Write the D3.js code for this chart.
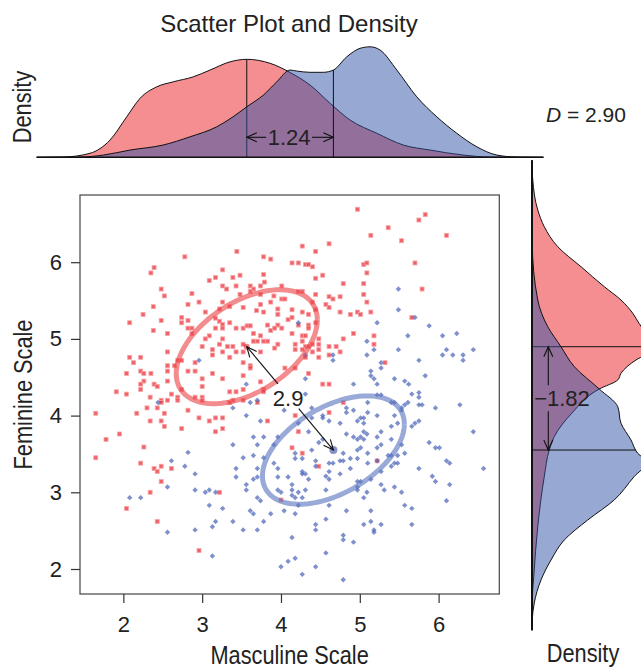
<!DOCTYPE html>
<html>
<head>
<meta charset="utf-8">
<script src="https://cdn.jsdelivr.net/npm/d3@7"></script>
<style>
body { margin: 0; background: #fff; }
text { font-family: 'Liberation Sans', Arial, Helvetica, sans-serif; fill: #222; }
</style>
</head>
<body>
<div id="viz"></div>
<script>
// tick labels
var xTicks = [2, 3, 4, 5, 6];
var yTicks = [2, 3, 4, 5, 6];

// group means (masculine, feminine) : red group, blue group
var meanX = [3.566, 4.665];
var meanY = [4.898, 3.551];

// data ellipses: half extents along x and y, and correlation
var ellHalfX = [0.895, 0.90];
var ellHalfY = [0.743, 0.706];
var ellR     = [0.47, 0.48];

// labels
var diffXLabel = "1.24";
var diffYLabel = "\u22121.82";
var distLabel  = "2.9";
var dLabel     = "2.90";

// marginal densities, [value, density]
var topRed = [[0.9,0],[1.235,0.001],[1.577,0.016],[1.831,0.069],[2.043,0.162],[2.212,0.236],[2.424,0.282],[2.635,0.302],[2.888,0.322],[3.100,0.349],[3.354,0.382],[3.566,0.392],[3.862,0.376],[4.117,0.339],[4.369,0.289],[4.623,0.216],[4.877,0.149],[5.216,0.096],[5.553,0.049],[5.892,0.029],[6.311,0.009],[6.654,0.001],[7.33,0]];
var topBlue = [[0.9,0],[1.45,0.001],[1.746,0.009],[2.085,0.029],[2.504,0.049],[2.846,0.082],[3.185,0.122],[3.392,0.162],[3.566,0.202],[3.777,0.249],[3.947,0.302],[4.115,0.349],[4.2,0.345],[4.369,0.340],[4.538,0.340],[4.665,0.349],[4.835,0.402],[5.004,0.436],[5.131,0.442],[5.258,0.429],[5.470,0.349],[5.723,0.242],[5.977,0.162],[6.231,0.096],[6.485,0.042],[6.739,0.009],[6.992,0.001],[7.33,0]];
var sideRed = [[7.33,0],[7.163,0.001],[7.072,0.003],[6.681,0.023],[6.463,0.049],[6.202,0.103],[5.941,0.196],[5.681,0.289],[5.507,0.356],[5.334,0.403],[5.203,0.428],[5.051,0.46],[4.898,0.47],[4.790,0.45],[4.725,0.416],[4.552,0.356],[4.464,0.343],[4.347,0.269],[4.030,0.159],[3.725,0.089],[3.551,0.069],[3.203,0.049],[2.552,0.023],[1.900,0.007],[1.596,0.001],[1.2,0]];
var sideBlue = [[7.33,0],[6.25,0.001],[5.507,0.023],[5.159,0.063],[4.898,0.116],[4.638,0.169],[4.347,0.269],[4.116,0.343],[3.900,0.356],[3.682,0.396],[3.508,0.423],[3.395,0.46],[3.203,0.408],[2.900,0.329],[2.639,0.223],[2.378,0.129],[2.117,0.076],[1.857,0.036],[1.557,0.009],[1.335,0.001],[1.2,0]];

// scatter points [masculine, feminine]
var redPts = [
[3.44,6.14],[2.78,6.07],[3.78,6.07],[3.87,6.04],[2.39,5.93],[2.35,5.86],[3.26,5.90],[3.48,5.83],[3.78,5.84],[3.17,5.80],[3.39,5.80],[3.09,5.76],[3.79,5.74],[3.26,5.69],[3.43,5.69],[3.61,5.69],[3.74,5.69],[4.01,5.69],[2.48,5.65],[3.31,5.65],[3.65,5.65],[2.87,5.59],[3.48,5.58],[3.61,5.62],[2.52,5.56],[3.74,5.58],[3.91,5.56],[4.01,5.52],[4.05,5.52],[2.82,5.45],[2.96,5.48],[3.26,5.48],[3.74,5.45],[3.87,5.48],[3.52,5.41],[2.38,5.42],[3.35,5.42],[3.22,5.39],[3.96,5.39],[3.69,5.37],[3.78,5.35],[3.04,5.35],[2.25,5.32],[2.74,5.28],[3.17,5.27],[3.96,5.32],[2.48,5.24],[2.82,5.24],[2.74,5.21],[3.22,5.23],[3.26,5.19],[4.09,5.25],[2.08,5.21],[3.35,5.21],[3.96,5.18],[3.26,5.14],[3.43,5.14],[3.52,5.14],[3.57,5.17],[3.61,5.17],[3.83,5.18],[4.01,5.14],[2.82,5.14],[2.87,5.14],[3.17,5.14],[2.38,5.11],[2.56,5.07],[2.87,5.07],[3.65,5.07],[3.74,5.04],[3.87,5.11],[3.92,5.14],[3.09,5.04],[3.04,5.00],[3.26,5.00],[3.65,4.97],[3.70,4.97],[3.78,4.97],[3.83,4.97],[3.96,4.93],[3.52,4.93],[3.22,4.93],[3.32,4.90],[3.39,4.90],[3.00,4.90],[3.13,4.86],[3.26,4.83],[3.52,4.83],[3.74,4.83],[3.43,4.83],[2.56,4.83],[3.92,4.88],[2.08,4.76],[2.22,4.76],[2.13,4.69],[2.69,4.72],[2.74,4.72],[2.91,4.69],[3.13,4.79],[3.35,4.76],[3.61,4.65],[3.61,4.62],[3.52,4.69],[4.05,4.62],[2.22,4.58],[2.56,4.58],[2.82,4.58],[2.91,4.58],[3.13,4.55],[2.04,4.55],[2.26,4.55],[2.35,4.55],[2.56,4.65],[2.65,4.65],[3.00,4.48],[3.26,4.48],[3.52,4.52],[3.74,4.44],[2.26,4.45],[2.22,4.41],[2.56,4.45],[2.39,4.41],[2.43,4.38],[2.22,4.34],[2.74,4.34],[3.00,4.38],[3.35,4.31],[3.43,4.31],[1.91,4.31],[2.04,4.28],[2.61,4.28],[3.52,4.34],[3.78,4.34],[3.78,4.31],
[4.97,6.69],[5.83,6.62],[5.75,6.55],[5.36,6.45],[5.14,6.35],[6.10,6.35],[5.53,6.28],[4.61,6.24],[4.27,6.21],[4.44,6.14],[4.14,5.99],[4.22,5.99],[4.31,5.97],[4.35,5.97],[4.40,5.94],[5.05,5.97],[5.09,5.99],[5.70,5.99],[5.09,5.86],[4.53,5.83],[4.44,5.79],[4.79,5.72],[5.05,5.72],[5.79,5.65],[4.22,5.62],[4.27,5.62],[4.44,5.58],[5.05,5.58],[4.61,5.55],[4.66,5.52],[4.75,5.55],[5.09,5.48],[4.40,5.48],[4.57,5.45],[4.61,5.41],[4.14,5.38],[4.27,5.35],[4.35,5.32],[4.44,5.38],[4.75,5.35],[4.88,5.32],[4.97,5.35],[5.01,5.32],[5.14,5.35],[5.66,5.28],[4.14,5.28],[4.22,5.18],[4.35,5.18],[4.35,5.14],[4.44,5.21],[4.14,5.07],[4.92,5.07],[5.18,5.04],[4.79,5.00],[4.27,5.04],[4.31,5.04],[4.27,4.97],[4.48,5.00],[4.18,4.93],[4.40,4.93],[4.48,4.93],[5.18,4.93],[4.31,4.90],[4.35,4.90],[4.18,4.86],[4.27,4.86],[4.48,4.86],[4.61,4.90],[4.70,4.90],[4.40,4.83],[4.75,4.83],[4.61,4.79],[4.31,4.76],[4.48,4.76],[5.32,4.69],[4.18,4.62],[4.35,4.55],[4.53,4.41],[4.61,4.41],
[2.34,4.24],[2.48,4.20],[2.56,4.20],[2.48,4.17],[2.69,4.24],[2.69,4.20],[2.91,4.24],[3.00,4.24],[3.00,4.20],[3.39,4.20],[3.35,4.17],[3.52,4.20],[3.70,4.17],[1.65,4.03],[2.17,4.03],[2.30,4.10],[2.43,4.10],[2.52,4.03],[2.82,4.07],[2.34,3.93],[2.48,3.93],[2.52,3.86],[2.74,3.83],[2.96,3.97],[3.09,3.93],[3.17,3.97],[3.26,3.97],[3.17,3.79],[3.26,3.83],[3.83,3.93],[1.78,3.69],[1.95,3.76],[2.26,3.59],[1.65,3.45],[2.22,3.38],[2.39,3.31],[2.43,3.27],[2.48,3.34],[2.61,3.31],[2.48,3.14],[2.34,3.00],[2.04,2.79],[3.22,3.00],[2.43,2.62],[2.96,2.24],[4.00,2.90],
[4.79,4.17],[4.18,4.00],[4.61,4.04],[4.22,3.79],[4.14,3.58],[4.27,3.51],[4.48,3.34],[5.22,3.41]
];
var bluePts = [
[2.96,4.72],[3.56,4.41],
[5.49,5.65],[5.49,5.38],[5.22,5.21],[5.70,5.28],[5.88,5.17],[4.22,5.21],[6.23,5.07],[5.61,5.04],[6.05,5.04],[5.09,4.97],[5.18,4.86],[5.49,4.86],[6.10,4.86],[6.44,4.86],[5.09,4.79],[6.05,4.79],[6.18,4.79],[6.31,4.79],[4.66,4.79],[4.31,4.79],[4.66,4.72],[5.75,4.72],[6.31,4.72],[5.27,4.69],[5.27,4.62],[5.14,4.58],[5.14,4.52],[5.18,4.48],[5.83,4.52],[4.31,4.48],[5.44,4.48],[5.57,4.45],[5.62,4.41],[5.22,4.41],[4.92,4.41],[5.75,4.30],[5.66,4.28],[4.31,4.28],
[2.44,4.17],[3.39,4.10],[3.61,4.17],[3.70,4.20],[3.56,4.00],[3.74,3.93],[3.65,3.72],[3.78,3.72],[3.96,3.72],[4.04,4.07],[3.39,3.62],[3.70,3.62],[3.91,3.62],[3.65,3.48],[3.52,3.45],[3.78,3.45],[2.82,3.52],[2.61,3.41],[2.78,3.34],[3.43,3.31],[3.70,3.31],[3.91,3.38],[3.96,3.31],[2.91,3.24],[3.43,3.20],[3.70,3.20],[3.96,3.20],[4.09,3.20],[3.65,3.17],[3.56,3.10],[2.56,3.07],[2.91,3.03],[3.04,3.00],[3.09,3.03],[3.17,3.00],[3.56,3.03],[3.96,3.03],[4.00,3.00],[2.08,2.93],[2.22,2.93],[3.70,2.93],[3.74,2.89],[3.09,2.83],[3.26,2.79],[3.61,2.76],[3.65,2.72],[3.87,2.72],[4.04,2.76],[3.17,2.62],[3.39,2.62],[3.78,2.62],[3.13,2.55],[2.91,2.51],[3.52,2.51],[3.70,2.51],[2.56,2.48],[3.13,2.17],[4.09,2.10],[4.00,2.03],
[5.10,4.17],[5.22,4.27],[5.27,4.27],[5.40,4.17],[5.44,4.17],[5.61,4.17],[5.75,4.24],[5.75,4.14],[5.79,4.14],[6.27,4.14],[5.96,4.10],[5.57,4.14],[5.53,4.10],[4.83,4.10],[4.39,4.10],[4.92,4.07],[5.10,4.04],[5.53,4.07],
[4.53,4.00],[4.53,3.97],[4.39,3.97],[4.61,3.93],[4.83,4.04],[5.01,3.97],[4.97,3.93],[5.05,3.97],[5.22,4.00],[5.44,4.00],[5.05,3.90],[4.75,3.90],[4.22,3.90],[5.48,3.90],[5.66,3.86],[5.70,3.90],[5.75,3.93],[5.40,3.86],[4.35,3.79],[5.27,3.79],[5.05,3.79],[4.83,3.76],[5.09,3.76],[6.44,3.79],
[4.92,3.72],[4.97,3.69],[5.05,3.69],[5.01,3.72],[5.22,3.72],[5.40,3.69],[5.88,3.65],[4.48,3.65],[4.53,3.69],[5.27,3.62],[5.22,3.58],[5.01,3.58],[4.97,3.55],[5.96,3.58],[6.01,3.58],[5.53,3.62],[4.39,3.55],[4.18,3.51],[4.79,3.51],[5.10,3.51],
[4.18,3.44],[4.27,3.44],[4.75,3.41],[4.79,3.41],[4.88,3.44],[4.97,3.44],[5.36,3.48],[5.40,3.48],[5.48,3.48],[5.57,3.51],[4.44,3.41],[4.61,3.38],[4.66,3.38],[5.10,3.38],[5.40,3.34],[5.44,3.38],[5.48,3.38],[6.10,3.41],[6.14,3.38],[5.75,3.31],[6.57,3.31],[4.88,3.31],[4.44,3.34],[5.22,3.41],
[4.27,3.27],[4.27,3.24],[4.31,3.24],[4.61,3.27],[4.75,3.24],[4.57,3.21],[4.61,3.17],[4.35,3.17],[5.27,3.27],[5.14,3.17],[4.97,3.14],[5.01,3.14],[4.97,3.07],[4.97,3.03],[5.27,3.10],[5.44,3.07],[5.31,3.03],[5.92,3.21],[5.96,3.14],[6.14,3.10],[4.14,3.10],[4.14,3.03],[4.31,3.03],[4.57,3.03],[4.22,3.00],[5.09,3.00],[5.53,3.00],[4.14,2.96],[4.18,2.93],[4.27,2.93],[5.05,2.93],
[4.61,2.83],[4.22,2.83],[5.57,2.83],[5.66,2.79],[6.10,2.89],[4.18,2.72],[4.83,2.76],[5.14,2.76],[4.57,2.65],[4.44,2.58],[4.44,2.51],[5.05,2.58],[5.14,2.62],[5.27,2.58],[5.18,2.51],[5.18,2.48],[5.66,2.58],[4.14,2.41],[4.79,2.44],[4.79,2.38],[4.92,2.35],
[4.57,2.21],[4.18,2.14],[4.44,2.03],[4.27,1.93],[4.79,1.86]
];

var redFill  = "rgba(235,30,35,0.5)";
var blueFill = "rgba(47,81,165,0.5)";

var svg = d3.select("#viz")
    .append("svg")
    .attr("width", 641)
    .attr("height", 670);

var x = d3.scaleLinear().domain([1.45, 6.77]).range([80, 499.3]);
var y = d3.scaleLinear().domain([1.674, 6.876]).range([594, 195]);
var dTop  = d3.scaleLinear().domain([0, 0.5]).range([157.3, 32.3]);
var dSide = d3.scaleLinear().domain([0, 0.5]).range([532, 657]);

function arrow(g, x1, y1, x2, y2) {
  var a = Math.atan2(y2 - y1, x2 - x1), L = 11, w = 0.42;
  g.append("line").attr("x1", x1).attr("y1", y1).attr("x2", x2).attr("y2", y2)
    .attr("stroke", "#111").attr("stroke-width", 1.1);
  g.append("path")
    .attr("d", "M" + (x2 - L * Math.cos(a - w)) + "," + (y2 - L * Math.sin(a - w)) +
               "L" + x2 + "," + y2 +
               "L" + (x2 - L * Math.cos(a + w)) + "," + (y2 - L * Math.sin(a + w)))
    .attr("fill", "none").attr("stroke", "#111").attr("stroke-width", 1.1);
}
function interp(arr, v) {
  var s = d3.scaleLinear().domain(arr.map(function(d){ return d[0]; }))
                          .range(arr.map(function(d){ return d[1]; }));
  return s(v);
}

// ---------- top density ----------
var topG = svg.append("g");
var areaTop = d3.area().curve(d3.curveMonotoneX)
    .x(function(d){ return x(d[0]); }).y0(dTop(0)).y1(function(d){ return dTop(d[1]); });
var lineTop = d3.line().curve(d3.curveMonotoneX)
    .x(function(d){ return x(d[0]); }).y(function(d){ return dTop(d[1]); });

[[topRed, redFill, 0], [topBlue, blueFill, 1]].forEach(function(s) {
  topG.append("path").attr("d", areaTop(s[0])).attr("fill", s[1]);
  topG.append("path").attr("d", lineTop(s[0])).attr("fill", "none").attr("stroke", "#111").attr("stroke-width", 1);
  topG.append("line")
    .attr("x1", x(meanX[s[2]])).attr("x2", x(meanX[s[2]]))
    .attr("y1", dTop(0)).attr("y2", dTop(interp(s[0], meanX[s[2]])))
    .attr("stroke", "#111").attr("stroke-width", 1);
});
topG.append("line").attr("x1", x(0.9)).attr("x2", x(7.33)).attr("y1", dTop(0)).attr("y2", dTop(0))
  .attr("stroke", "#111").attr("stroke-width", 1.4);

var midX = (x(meanX[0]) + x(meanX[1])) / 2;
arrow(topG, midX - 24, 137.3, x(meanX[0]), 137.3);
arrow(topG, midX + 22, 137.3, x(meanX[1]), 137.3);
topG.append("text").attr("x", midX - 1).attr("y", 145).attr("text-anchor", "middle")
  .style("font-size", "22px").text(diffXLabel);

// ---------- side density ----------
var sideG = svg.append("g");
var areaSide = d3.area().curve(d3.curveMonotoneY)
    .y(function(d){ return y(d[0]); }).x0(dSide(0)).x1(function(d){ return dSide(d[1]); });
var lineSide = d3.line().curve(d3.curveMonotoneY)
    .y(function(d){ return y(d[0]); }).x(function(d){ return dSide(d[1]); });

[[sideRed, redFill, 0], [sideBlue, blueFill, 1]].forEach(function(s) {
  sideG.append("path").attr("d", areaSide(s[0])).attr("fill", s[1]);
  sideG.append("path").attr("d", lineSide(s[0])).attr("fill", "none").attr("stroke", "#111").attr("stroke-width", 1);
  sideG.append("line")
    .attr("y1", y(meanY[s[2]])).attr("y2", y(meanY[s[2]]))
    .attr("x1", dSide(0)).attr("x2", dSide(interp(s[0], meanY[s[2]])))
    .attr("stroke", "#111").attr("stroke-width", 1);
});
sideG.append("line").attr("x1", dSide(0)).attr("x2", dSide(0)).attr("y1", y(7.33)).attr("y2", y(1.2))
  .attr("stroke", "#111").attr("stroke-width", 2);

var midY = (y(meanY[0]) + y(meanY[1])) / 2;
arrow(sideG, 548.3, midY - 13, 548.3, y(meanY[0]));
arrow(sideG, 548.3, midY + 13, 548.3, y(meanY[1]));
sideG.append("text").attr("x", 562).attr("y", midY + 8).attr("text-anchor", "middle")
  .style("font-size", "22px").text(diffYLabel);

// ---------- scatter ----------
var sc = svg.append("g");
sc.append("rect").attr("x", 80).attr("y", 195).attr("width", 419.3).attr("height", 399)
  .attr("fill", "none").attr("stroke", "#444").attr("stroke-width", 1.2);

sc.selectAll("rect.pt").data(redPts).enter().append("rect").attr("class", "pt")
  .attr("x", function(d){ return x(d[0]) - 2; })
  .attr("y", function(d){ return y(d[1]) - 2; })
  .attr("width", 4).attr("height", 4)
  .attr("fill", "#ec2d36").attr("fill-opacity", 0.75)
  .attr("stroke", "#f7a5a8").attr("stroke-width", 0.8);

sc.selectAll("path.pt").data(bluePts).enter().append("path").attr("class", "pt")
  .attr("d", "M0,-2.7L2.7,0L0,2.7L-2.7,0Z")
  .attr("transform", function(d){ return "translate(" + x(d[0]) + "," + y(d[1]) + ")"; })
  .attr("fill", "#4d66b8").attr("fill-opacity", 0.72);

var ellColors = ["rgba(236,70,72,0.62)", "rgba(100,125,195,0.65)"];
[0, 1].forEach(function(i) {
  var pts = d3.range(0, 2 * Math.PI + 0.05, 0.05).map(function(t) {
    return [meanX[i] + ellHalfX[i] * Math.cos(t),
            meanY[i] + ellHalfY[i] * (ellR[i] * Math.cos(t) + Math.sqrt(1 - ellR[i] * ellR[i]) * Math.sin(t))];
  });
  sc.append("path")
    .attr("d", d3.line().x(function(d){ return x(d[0]); }).y(function(d){ return y(d[1]); })(pts) + "Z")
    .attr("fill", "none").attr("stroke", ellColors[i]).attr("stroke-width", 5);
});
sc.append("circle").attr("cx", x(meanX[0])).attr("cy", y(meanY[0])).attr("r", 3)
  .attr("fill", "rgba(220,40,45,0.6)");
sc.append("circle").attr("cx", x(meanX[1])).attr("cy", y(meanY[1])).attr("r", 4)
  .attr("fill", "rgba(80,100,180,0.7)");

var cx0 = x(meanX[0]), cy0 = y(meanY[0]), cx1 = x(meanX[1]), cy1 = y(meanY[1]);
arrow(sc, cx0 + 0.36 * (cx1 - cx0), cy0 + 0.36 * (cy1 - cy0), cx0, cy0);
arrow(sc, cx0 + 0.60 * (cx1 - cx0), cy0 + 0.60 * (cy1 - cy0), cx1, cy1);
sc.append("text").attr("x", (cx0 + cx1) / 2 - 2).attr("y", (cy0 + cy1) / 2 + 8)
  .attr("text-anchor", "middle").style("font-size", "22px").text(distLabel);

// axes
var ax = svg.append("g").attr("transform", "translate(0,594)")
  .call(d3.axisBottom(x).tickValues(xTicks).tickSize(9).tickPadding(13).tickFormat(d3.format("d")));
var ay = svg.append("g").attr("transform", "translate(80,0)")
  .call(d3.axisLeft(y).tickValues(yTicks).tickSize(9).tickPadding(9).tickFormat(d3.format("d")));
[ax, ay].forEach(function(a) {
  a.select(".domain").remove();
  a.selectAll("line").attr("stroke", "#333").attr("stroke-width", 1.2);
  a.selectAll("text").style("font-size", "22px").attr("fill", "#222")
    .style("font-family", "'Liberation Sans', Arial, sans-serif");
});

// titles and labels (axis labels narrowed a little, like the condensed face of the original)
svg.append("text").attr("x", 289).attr("y", 32).attr("text-anchor", "middle")
  .style("font-size", "24px").text("Scatter Plot and Density");
svg.append("text").attr("transform", "translate(289.6,664) scale(0.87,1)").attr("text-anchor", "middle")
  .style("font-size", "25px").text("Masculine Scale");
svg.append("text").attr("transform", "translate(32,394.5) rotate(-90) scale(0.87,1)").attr("text-anchor", "middle")
  .style("font-size", "25px").text("Feminine Scale");
svg.append("text").attr("transform", "translate(31,107) rotate(-90) scale(0.87,1)").attr("text-anchor", "middle")
  .style("font-size", "25px").text("Density");
svg.append("text").attr("transform", "translate(583,662) scale(0.87,1)").attr("text-anchor", "middle")
  .style("font-size", "25px").text("Density");
var dt = svg.append("text").attr("x", 586).attr("y", 122).attr("text-anchor", "middle").style("font-size", "21px");
dt.append("tspan").style("font-style", "italic").text("D");
dt.append("tspan").text(" = " + dLabel);
</script>
</body>
</html>
